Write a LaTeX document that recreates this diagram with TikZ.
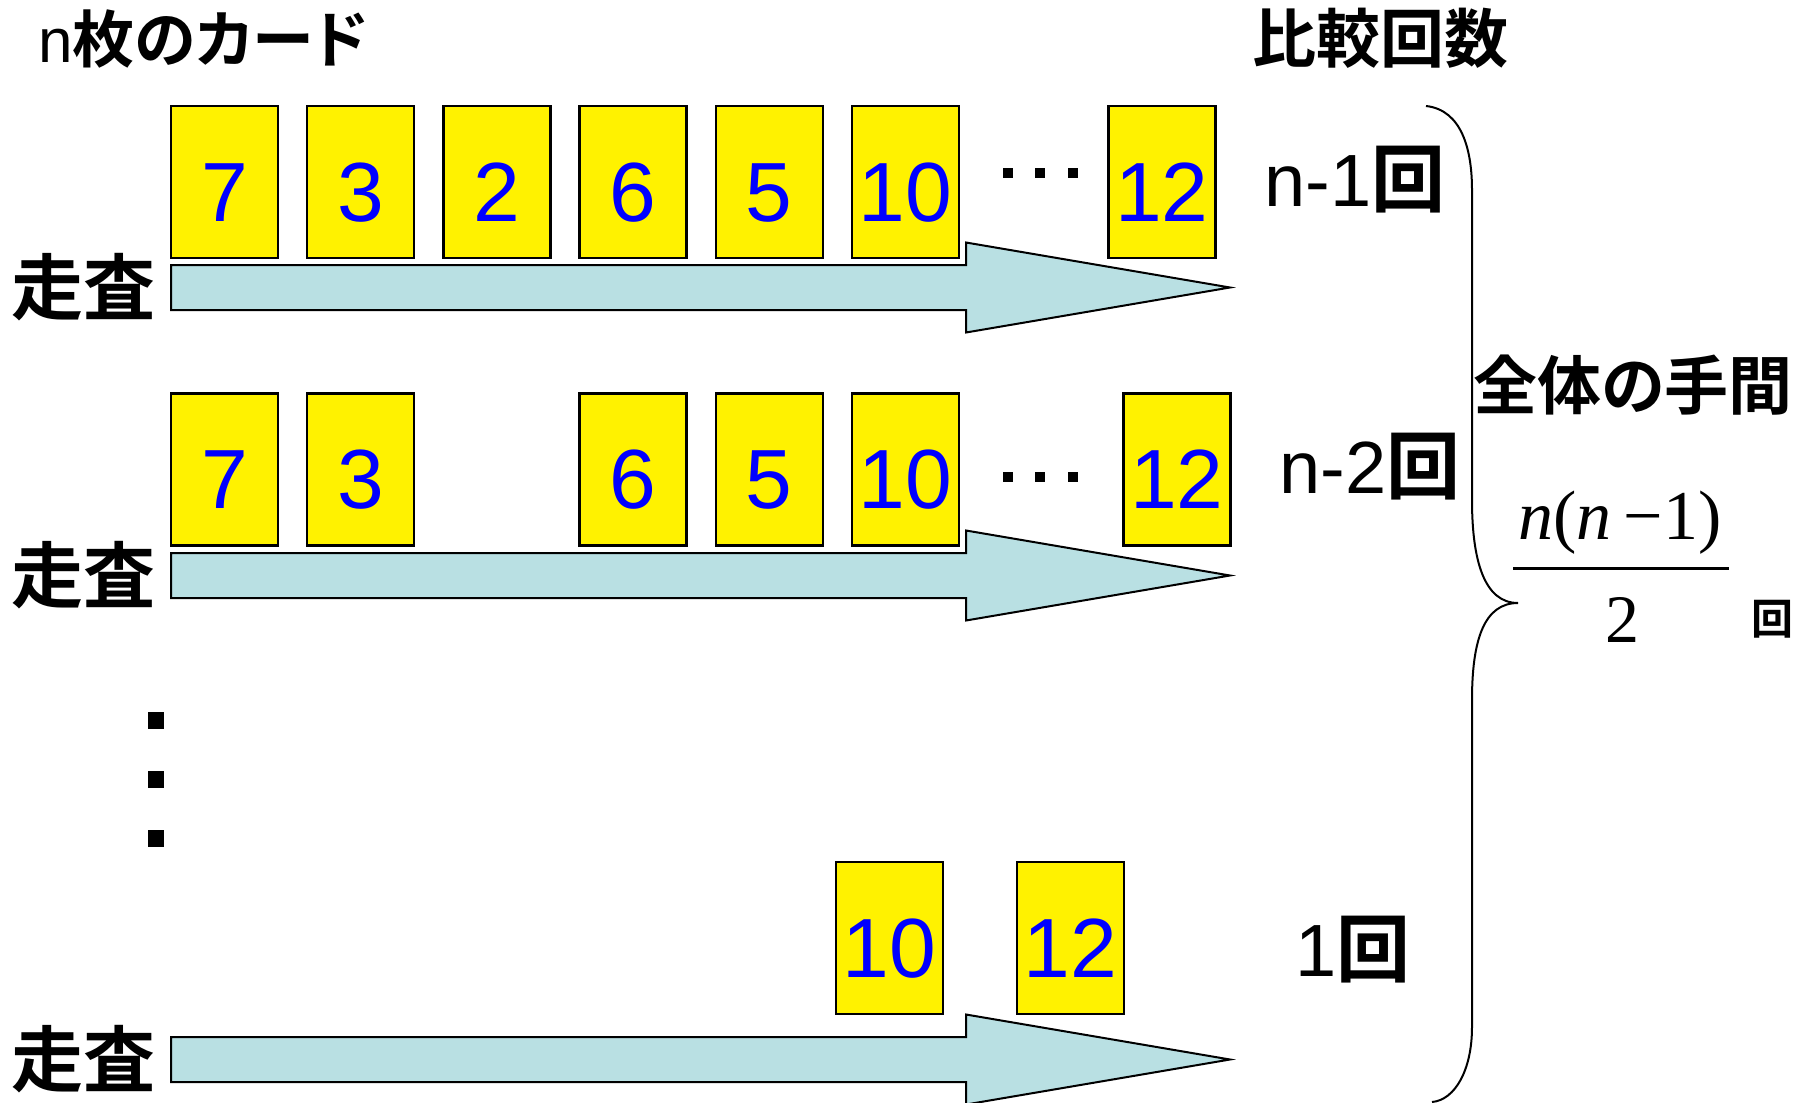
\documentclass[tikz,border=0pt]{standalone}
\usepackage{fontspec}
\setmainfont{Liberation Sans}
\newfontfamily\jpfont[RawFeature=+palt,BoldFont={Noto Sans CJK JP Bold}]{Noto Sans CJK JP}
\newfontfamily\tmsfont{Liberation Serif}
\usetikzlibrary{positioning}
\definecolor{arrowblue}{RGB}{185,224,227}

\begin{document}
\begin{tikzpicture}[x=0.5pt,y=-0.5pt,
  card/.style={draw=black,line width=1.2pt,fill=yellow,text=blue,
    minimum width=53.5pt,minimum height=76pt,inner sep=0pt,
    font=\fontsize{42}{42}\selectfont,text height=39pt,text depth=0pt},
  scanarrow/.style={draw=black,line width=1pt,fill=arrowblue},
  scanlabel/.style={inner sep=0pt,font=\jpfont\bfseries\fontsize{36}{36}\selectfont},
  headlabel/.style={inner sep=0pt,font=\jpfont\bfseries\fontsize{32}{32}\selectfont},
  countlabel/.style={inner sep=0pt,font=\fontsize{37}{37}\selectfont}]
  \useasboundingbox (0,0) rectangle (1811,1103);
  % scan arrows
  \foreach \ay in {287.5,575.5,1059.5}
    \draw[scanarrow] (171,\ay-22.5) -- (966,\ay-22.5) -- (966,\ay-45) -- (1230,\ay)
      -- (966,\ay+45) -- (966,\ay+22.5) -- (171,\ay+22.5) -- cycle;
  \coordinate (arrA) at (171,287.5);
  \coordinate (arrB) at (171,575.5);
  \coordinate (arrC) at (171,1059.5);
  \node[scanlabel,left=7.5pt of arrA] (scanA) {走査};
  \node[scanlabel,left=7.5pt of arrB] (scanB) {走査};
  \node[scanlabel,left=7.5pt of arrC] (scanC) {走査};
  % cards
  \foreach \v [count=\i] in {7,3,2,6,5,10}
    \node[card] (cA\i) at ({88.3+136.2*\i},182) {\v};
  \node[card] (cA7) at (1162,182) {12};
  \foreach \v/\i in {7/1,3/2,6/4,5/5,10/6}
    \node[card] (cB\i) at ({88.3+136.2*\i},469.5) {\v};
  \node[card] (cB7) at (1177,469.5) {12};
  \node[card] (cC1) at (889.5,938) {10};
  \node[card] (cC2) at (1070.5,938) {12};
  % dots
  \foreach \dx in {1008,1040,1073} {
    \fill (\dx-5,168) rectangle (\dx+5,178);
    \fill (\dx-5,472) rectangle (\dx+5,482);
  }
  \foreach \dy in {720,779,838}
    \fill (148,\dy-8.5) rectangle (164,\dy+8.5);
  % labels
  \node[anchor=base west,inner sep=0pt,font=\fontsize{31}{31}\selectfont] (cardsTitle) at (38,62) {n{\jpfont\bfseries 枚のカード}};
  \node[headlabel] (countTitle) at (1380,38) {比較回数};
  \node[countlabel] (cntA) at (1355,180) {n-1{\jpfont\bfseries 回}};
  \node[countlabel] (cntB) at (1370,467) {n-2{\jpfont\bfseries 回}};
  \node[countlabel] (cntC) at (1353,950) {1{\jpfont\bfseries 回}};
  \node[headlabel] (totalTitle) at (1633,385) {全体の手間};
  % brace
  \draw[line width=1pt] (1426,106) .. controls (1462,110) and (1472,150) .. (1472,190)
    -- (1472,500) .. controls (1472,560) and (1484,603) .. (1518,603)
    .. controls (1484,603) and (1472,640) .. (1472,700)
    -- (1472,1027) .. controls (1472,1070) and (1455,1100) .. (1432,1102);
  % total
  \node[inner sep=0pt,font=\tmsfont\fontsize{35}{35}\selectfont] (numer) at (1620,523) {\textit{n}(\textit{n}\,−1)};
  \draw[line width=1.5pt] (1513,568) -- (1729,568);
  \node[inner sep=0pt,font=\tmsfont\fontsize{34}{34}\selectfont] (denom) at (1622,620) {2};
  \node[inner sep=0pt,font=\jpfont\bfseries\fontsize{21}{21}\selectfont] (totalUnit) at (1772,619) {回};
\end{tikzpicture}
\end{document}
